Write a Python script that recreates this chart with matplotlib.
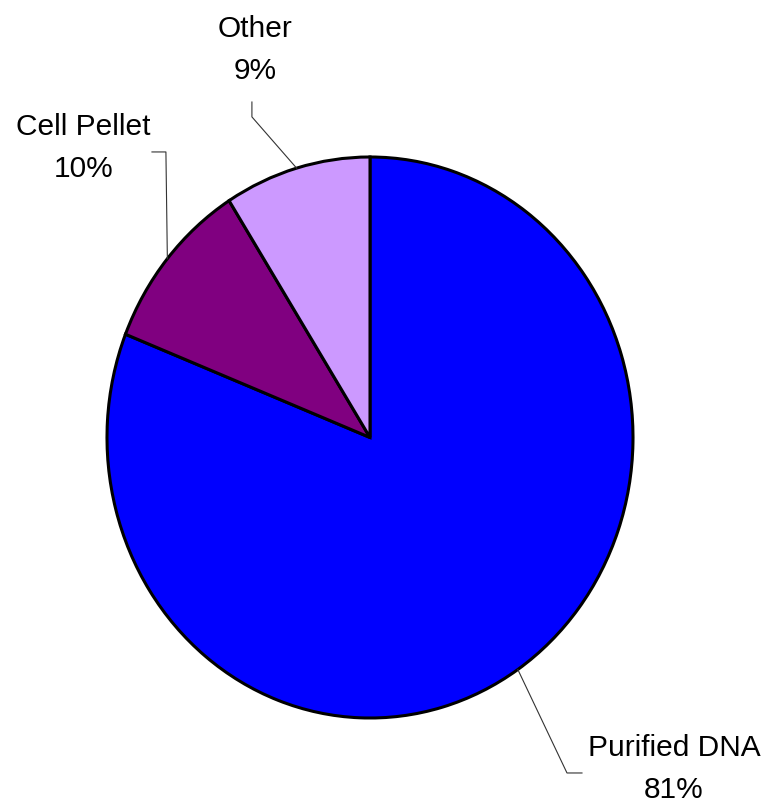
import numpy as np
import matplotlib
matplotlib.use("Agg")
import matplotlib.pyplot as plt

plt.rcParams['font.family'] = ['Liberation Sans', 'DejaVu Sans']

# data
labels = ['Purified DNA', 'Cell Pellet', 'Other']
values = [81, 10, 9]
colors = ['#0000FF', '#800080', '#CC99FF']

# label placement (data coords, pie radius = 1) and leader elbows
text_pos = [(1.156, -1.182), (-1.089, 1.032), (-0.437, 1.381)]
elbows = [[(0.806, -1.196), (0.749, -1.196)],
          [(-0.829, 1.018), (-0.776, 1.018)],
          [(-0.449, 1.196), (-0.449, 1.143)]]

fig = plt.figure(figsize=(7.70, 8.11), dpi=100)
ax = fig.add_axes([107/770, 93/811, 526/770, 561/811])

wedges, _ = ax.pie(values, colors=colors, startangle=90, counterclock=False,
                   radius=1, wedgeprops=dict(edgecolor='black', linewidth=2.2))
ax.set_aspect('auto')
ax.set_xlim(-1, 1)
ax.set_ylim(-1, 1)
ax.axis('off')

total = float(sum(values))
cum = 0.0
for lab, v, tp, el in zip(labels, values, text_pos, elbows):
    mid = 90 - (cum + v / 2) / total * 360
    cum += v
    ex, ey = np.cos(np.radians(mid)), np.sin(np.radians(mid))
    xs = [el[0][0], el[1][0], ex]
    ys = [el[0][1], el[1][1], ey]
    ax.plot(xs, ys, color='#333333', linewidth=0.8, clip_on=False)
    ax.text(tp[0], tp[1], '%s\n%d%%' % (lab, v), ha='center', va='center',
            multialignment='center', fontsize=21.5, linespacing=1.64,
            clip_on=False)

fig.savefig('out.png', dpi=100)
